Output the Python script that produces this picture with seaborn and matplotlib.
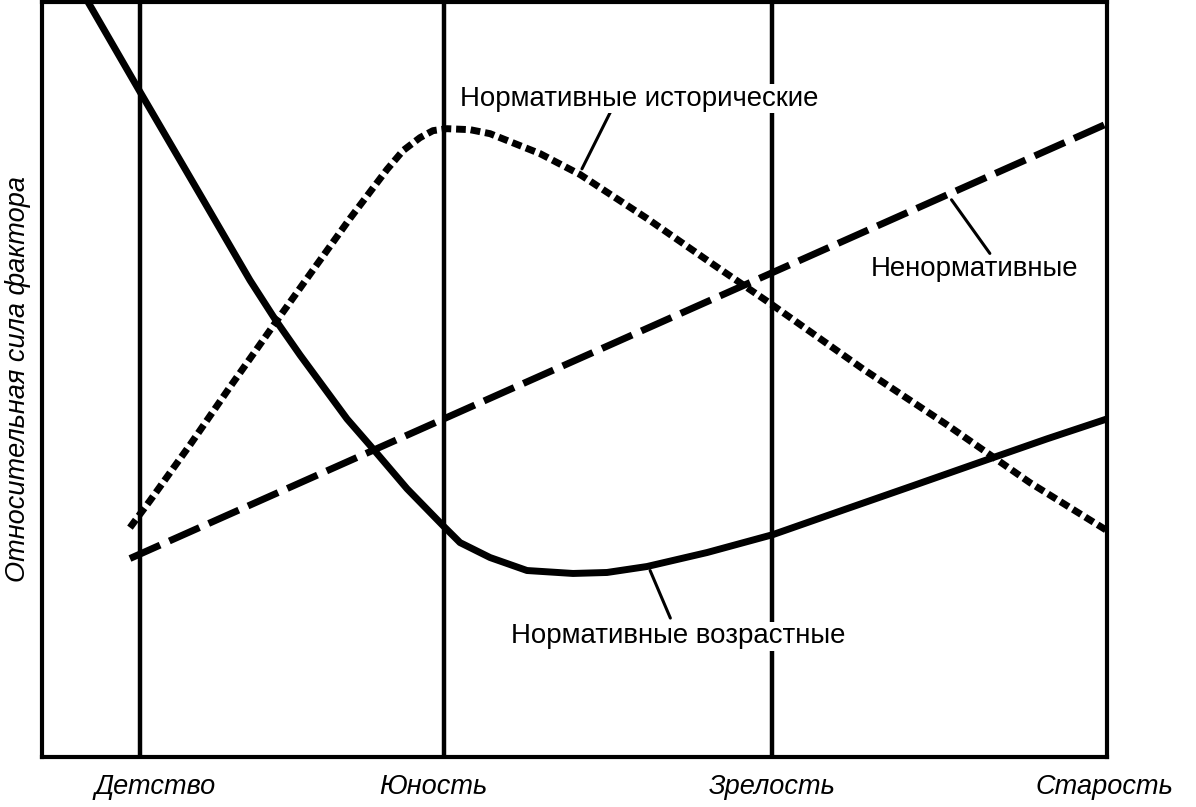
import numpy as np
import pandas as pd
import matplotlib
matplotlib.use("Agg")
import matplotlib.pyplot as plt
import seaborn as sns

# life stages (x axis, 0..100 scale)
stages = ["Детство", "Юность", "Зрелость", "Старость"]
stage_ticks = [10.6, 36.7, 68.6, 99.8]
stage_lines = [9.2, 37.7, 68.5]

# Нормативные возрастные (solid)
age_x = [4.32, 9.20, 14.84, 19.53, 21.88, 24.23, 26.57, 28.64, 31.08, 34.27, 37.65, 39.25, 42.07,
         45.54, 49.86, 53.05, 56.81, 62.44, 68.64, 75.59, 81.78, 88.73, 94.37, 100.0]
age_y = [100.0, 88.11, 74.50, 63.14, 57.99, 53.24, 48.75, 44.78, 40.82, 35.54, 30.65, 28.40, 26.42,
         24.70, 24.31, 24.44, 25.23, 27.08, 29.46, 32.89, 35.93, 39.37, 42.14, 44.78]

# Нормативные исторические (dotted)
hist_x = [8.26, 10.14, 13.90, 17.65, 21.88, 25.16, 28.92, 32.39, 33.90, 35.49, 36.71, 38.03,
          40.19, 42.07, 46.76, 50.52, 56.81, 63.00, 68.08, 77.09, 84.98, 92.77, 100.0]
hist_y = [30.38, 33.95, 41.35, 49.01, 57.46, 63.94, 71.33, 77.81, 80.32, 82.03, 82.96, 83.22,
          83.09, 82.56, 79.92, 77.15, 71.33, 65.26, 60.37, 51.39, 43.99, 36.33, 29.99]

# Ненормативные (dashed)
nonnorm_x = [8.26, 100.0]
nonnorm_y = [26.29, 83.88]

sns.set_theme(style="white")
plt.rcParams["font.family"] = ["Liberation Sans", "DejaVu Sans"]
plt.rcParams["text.color"] = "black"
plt.rcParams["axes.labelcolor"] = "black"
plt.rcParams["xtick.color"] = "black"

fig = plt.figure(figsize=(11.96, 8.07), dpi=100)
ax = fig.add_axes([42 / 1196, 50 / 807, 1065 / 1196, 755 / 807])

df_age = pd.DataFrame({"x": age_x, "y": age_y})
df_hist = pd.DataFrame({"x": hist_x, "y": hist_y})
df_non = pd.DataFrame({"x": nonnorm_x, "y": nonnorm_y})

sns.lineplot(data=df_age, x="x", y="y", sort=False, color="black", lw=5, ax=ax)
ax.lines[-1].set_solid_joinstyle("round")
sns.lineplot(data=df_hist, x="x", y="y", sort=False, color="black", lw=5, ax=ax)
ax.lines[-1].set_dashes((1.4, 0.7))
sns.lineplot(data=df_non, x="x", y="y", sort=False, color="black", lw=5, ax=ax)
ax.lines[-1].set_dashes((4.75, 1.45))

for xv in stage_lines:
    ax.axvline(xv, color="black", lw=3.2)

ax.set_xlim(0, 100)
ax.set_ylim(0, 100)
ax.set_xticks(stage_ticks)
ax.set_xticklabels(stages, fontsize=19.5, style="italic")
ax.set_yticks([])
ax.tick_params(axis="x", length=0, pad=12)
ax.set_xlabel("")
ax.set_ylabel("Относительная сила фактора", fontsize=19.5, style="italic", labelpad=8)
for s in ax.spines.values():
    s.set_color("black")
    s.set_linewidth(3)

# labels with leader lines (white box hides the stage lines behind the text)
labels = [("Нормативные исторические", (56.1, 87.2), (53.4, 85.5), (50.7, 77.9)),
          ("Ненормативные", (87.6, 64.6), (89.0, 66.7), (85.4, 73.8)),
          ("Нормативные возрастные", (59.7, 16.0), (59.0, 18.4), (57.1, 24.7))]
for txt, pos, p0, p1 in labels:
    ax.plot([p0[0], p1[0]], [p0[1], p1[1]], color="black", lw=2.2)
    ax.text(pos[0], pos[1], txt, fontsize=19.9, ha="center", va="center", zorder=5,
            bbox=dict(facecolor="white", edgecolor="none", pad=1))

fig.savefig("out.png", dpi=100)
